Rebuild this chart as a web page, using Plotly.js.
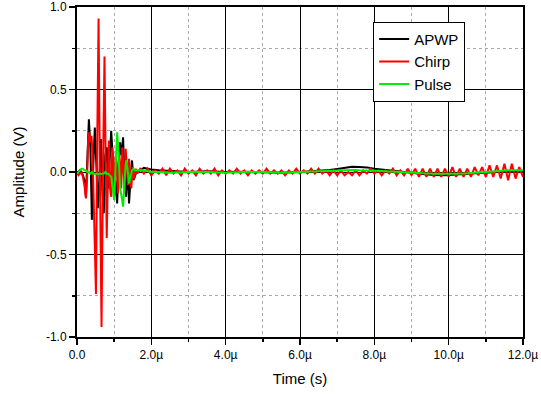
<!DOCTYPE html>
<html>
<head>
<meta charset="utf-8">
<script src="https://cdn.plot.ly/plotly-3.0.1.min.js"></script>
<style>html,body{margin:0;padding:0;background:#fff;}#chart{width:541px;height:394px;}</style>
</head>
<body>
<div id="chart"></div>
<script>
// Time in microseconds
const apwpTime = [0.00,0.04,0.08,0.12,0.16,0.20,0.24,0.28,0.32,0.36,0.40,0.44,0.48,0.52,0.56,0.60,0.64,0.68,0.72,0.76,0.80,0.84,0.88,0.92,0.96,1.00,1.04,1.08,1.12,1.16,1.20,1.24,1.28,1.32,1.36,1.40,1.44,1.48,1.52,1.56,1.60,
  1.70,1.80,1.90,2.00,2.20,2.50,3.00,3.50,4.00,4.50,5.00,5.50,6.00,6.50,6.80,7.00,7.20,7.40,7.60,7.80,8.00,8.30,8.60,9.00,9.30,9.60,9.90,10.20,10.50,10.80,11.00,11.30,11.60,12.00];
const apwpValues = [0.00,0.00,0.01,0.00,-0.02,-0.05,-0.15,0.10,0.32,0.15,-0.29,0.05,0.27,0.05,-0.22,-0.05,0.20,-0.10,-0.25,0.10,0.15,-0.10,0.05,0.25,0.10,-0.15,-0.05,-0.19,0.05,0.18,0.10,0.21,-0.05,-0.15,0.05,-0.19,-0.05,0.07,-0.05,-0.02,0.00,
  0.010,0.025,0.020,0.015,0.010,0.005,0.000,0.005,0.000,0.002,0.000,-0.005,0.000,0.005,0.012,0.018,0.025,0.032,0.030,0.028,0.020,0.012,0.005,-0.005,-0.012,-0.018,-0.020,-0.015,-0.010,-0.008,-0.005,0.000,0.005,0.000];

const chirpTime = [0.00,0.04,0.08,0.12,0.16,0.20,0.24,0.27,0.30,0.33,0.36,0.39,0.42,0.45,0.48,0.51,0.545,0.58,0.62,0.66,0.70,0.74,0.77,0.80,0.83,0.86,0.89,0.92,0.95,0.98,1.01,1.04,1.07,1.10,1.13,1.16,1.19,1.22,1.25,1.28,1.31,1.34,1.37,1.40,1.43,1.46,1.50,1.54,1.58,1.62,
  1.7,1.8,1.9,2.0,2.1,2.2,2.3,2.4,2.5,2.6,2.7,2.8,2.9,3.0,3.1,3.2,3.3,3.4,3.5,3.6,3.7,3.8,3.9,4.0,4.1,4.2,4.3,4.4,4.5,4.6,4.7,4.8,4.9,5.0,5.1,5.2,5.3,5.4,5.5,5.6,5.7,5.8,5.9,6.0,6.1,6.2,6.3,6.4,6.5,6.6,6.7,6.8,6.9,7.0,7.1,7.2,7.3,7.4,7.5,7.6,7.7,7.8,7.9,8.0,8.1,8.2,8.3,8.4,8.5,8.6,8.7,8.8,8.9,9.0,9.1,9.2,9.3,9.4,9.5,9.6,9.7,9.8,9.9,10.0,10.1,10.2,10.3,10.4,10.5,10.6,10.7,10.8,10.9,11.0,11.1,11.2,11.3,11.4,11.5,11.6,11.7,11.8,11.9,12.0];
const chirpValues = [0.00,-0.02,-0.01,0.00,-0.03,-0.08,-0.16,-0.05,0.20,0.24,0.18,0.22,0.10,-0.20,-0.45,-0.74,0.20,0.93,-0.10,-0.94,0.05,0.70,0.10,-0.40,-0.05,0.19,-0.10,-0.15,0.15,0.05,-0.12,0.10,0.02,-0.13,0.12,0.05,-0.10,0.15,0.03,-0.12,0.14,-0.02,-0.08,0.08,-0.02,-0.10,0.03,-0.04,0.02,-0.01,
  0.02,-0.01,0.02,-0.02,0.01,-0.01,0.02,-0.02,0.02,-0.01,0.01,-0.02,0.02,-0.01,0.01,-0.02,0.02,-0.01,0.01,-0.01,0.02,-0.02,0.01,-0.01,0.01,-0.01,0.02,-0.01,0.01,-0.02,0.01,-0.01,0.01,-0.01,0.02,-0.01,0.01,-0.01,0.01,-0.02,0.01,-0.01,0.02,-0.01,0.01,-0.01,0.02,-0.01,0.02,-0.01,0.01,-0.02,0.01,-0.02,0.01,-0.02,0.00,-0.02,0.01,-0.02,0.01,-0.01,0.02,-0.01,0.01,-0.02,0.01,-0.01,0.02,-0.02,0.01,-0.02,0.02,-0.02,0.02,-0.03,0.02,-0.03,0.02,-0.03,0.02,-0.03,0.02,-0.03,0.03,-0.03,0.02,-0.03,0.02,-0.03,0.03,-0.02,0.03,-0.03,0.04,-0.03,0.04,-0.04,0.05,-0.05,0.05,-0.04,0.03,-0.03];

const pulseTime = [0.00,0.04,0.08,0.12,0.16,0.20,0.24,0.28,0.32,0.36,0.40,0.44,0.48,0.52,0.56,0.60,0.64,0.68,0.72,0.76,0.80,0.84,0.88,0.92,0.96,1.00,1.04,1.08,1.12,1.16,1.20,1.24,1.28,1.32,1.36,1.40,1.44,1.48,1.52,1.56,1.60,
  1.70,1.80,1.90,2.00,2.20,2.50,3.00,3.50,4.00,4.50,5.00,5.50,6.00,6.50,6.80,7.00,7.20,7.40,7.60,7.80,8.00,8.30,8.60,9.00,9.30,9.60,9.90,10.20,10.50,10.80,11.00,11.30,11.60,12.00];
const pulseValues = [-0.01,0.00,0.01,0.02,0.02,0.01,0.01,0.00,0.00,-0.01,0.00,-0.01,-0.01,-0.01,-0.01,-0.01,-0.01,-0.01,-0.01,0.00,-0.01,-0.01,-0.02,-0.03,-0.10,-0.17,0.05,0.24,0.10,-0.10,-0.15,-0.21,-0.05,0.07,0.02,-0.07,-0.03,0.01,0.02,0.01,0.01,
  0.010,0.010,0.005,0.000,0.000,-0.005,0.000,0.000,-0.005,0.000,0.000,-0.005,0.000,0.005,0.008,0.010,0.012,0.012,0.010,0.010,0.008,0.005,0.000,-0.005,-0.008,-0.010,-0.012,-0.010,-0.008,-0.005,0.000,0.005,0.010,0.010];

const xTickVals = [0,2,4,6,8,10,12];
const xTickText = ['0.0','2.0\u00b5','4.0\u00b5','6.0\u00b5','8.0\u00b5','10.0\u00b5','12.0\u00b5'];
const yTickVals = [-1,-0.5,0,0.5,1];
const yTickText = ['-1.0','-0.5','0.0','0.5','1.0'];
const xMinorVals = [1,3,5,7,9,11];
const yMinorVals = [-0.75,-0.25,0.25,0.75];

const traces = [
  {x: apwpTime, y: apwpValues, name: 'APWP', type: 'scatter', mode: 'lines', line: {color: '#000000', width: 2}},
  {x: chirpTime, y: chirpValues, name: 'Chirp', type: 'scatter', mode: 'lines', line: {color: '#ff0000', width: 2}},
  {x: pulseTime, y: pulseValues, name: 'Pulse', type: 'scatter', mode: 'lines', line: {color: '#00ee00', width: 2}}
];

const font = {family: 'Liberation Sans, Arial, sans-serif', color: '#000'};

const layout = {
  width: 541, height: 394,
  margin: {l: 77, r: 18, t: 7, b: 57},
  paper_bgcolor: '#fff', plot_bgcolor: '#fff',
  font: Object.assign({size: 12}, font),
  showlegend: true,
  legend: {x: 0.664, y: 0.955, xanchor: 'left', yanchor: 'top', bgcolor: '#fff', bordercolor: '#000', borderwidth: 1,
    font: Object.assign({size: 15}, font), tracegroupgap: 0, itemwidth: 30},
  xaxis: {
    range: [0, 12], tickmode: 'array', tickvals: xTickVals, ticktext: xTickText,
    showline: true, linecolor: '#000', linewidth: 2, mirror: true,
    ticks: 'outside', ticklen: 6, tickwidth: 1.5, tickcolor: '#000',
    showgrid: true, gridcolor: '#000', gridwidth: 1, zeroline: false,
    tickfont: Object.assign({size: 12}, font),
    minor: {tickmode: 'array', tickvals: xMinorVals, ticks: 'outside', ticklen: 3, tickcolor: '#000', showgrid: true, gridcolor: '#aaaaaa', griddash: 'dot', gridwidth: 1},
    title: {text: 'Time (s)', font: Object.assign({size: 15}, font), standoff: 12}
  },
  yaxis: {
    range: [-1, 1], tickmode: 'array', tickvals: yTickVals, ticktext: yTickText,
    showline: true, linecolor: '#000', linewidth: 2, mirror: true,
    ticks: 'outside', ticklen: 6, tickwidth: 1.5, tickcolor: '#000',
    showgrid: true, gridcolor: '#000', gridwidth: 1, zeroline: false,
    tickfont: Object.assign({size: 12}, font),
    minor: {tickmode: 'array', tickvals: yMinorVals, ticks: 'outside', ticklen: 3, tickcolor: '#000', showgrid: true, gridcolor: '#aaaaaa', griddash: 'dot', gridwidth: 1},
    title: {text: 'Amplitude (V)', font: Object.assign({size: 15}, font), standoff: 18}
  }
};

Plotly.newPlot('chart', traces, layout, {staticPlot: true, displayModeBar: false});
</script>
</body>
</html>
